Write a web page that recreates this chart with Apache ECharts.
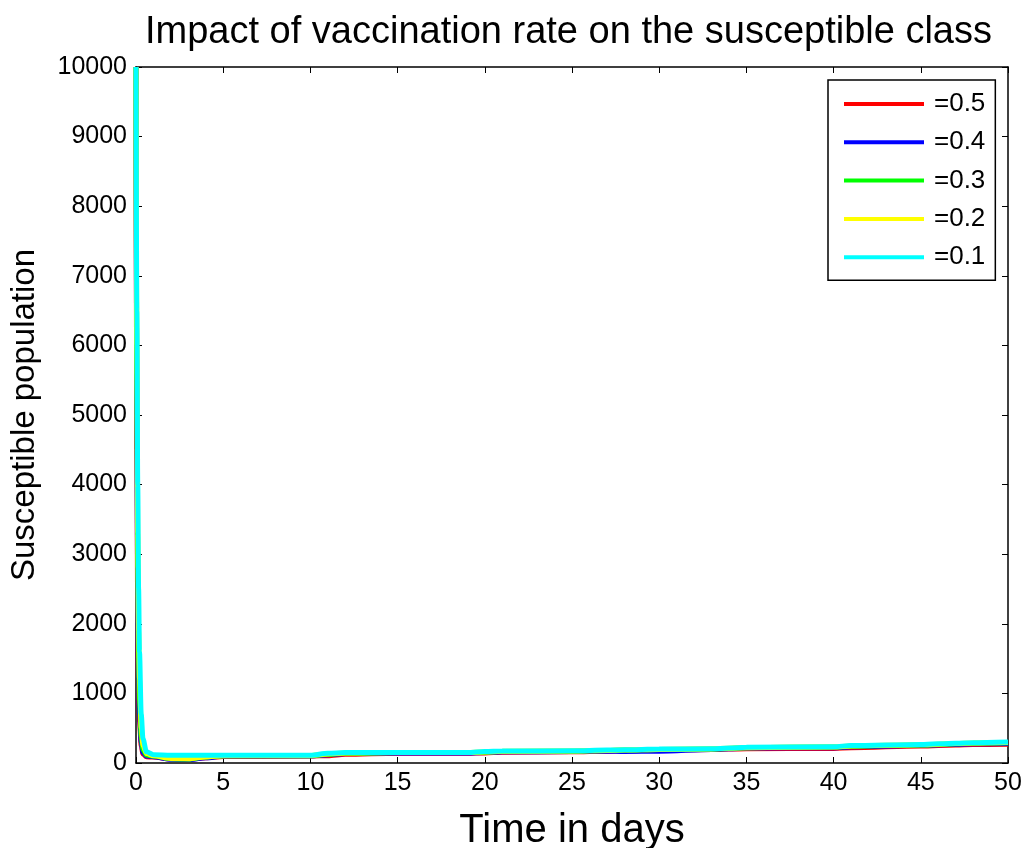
<!DOCTYPE html>
<html>
<head>
<meta charset="utf-8">
<script src="https://cdn.jsdelivr.net/npm/echarts@6/dist/echarts.min.js"></script>
<style>html,body{margin:0;padding:0;background:#fff;}#c{width:1027px;height:848px;}</style>
</head>
<body>
<div id="c"></div>
<script>
const titleText = 'Impact of vaccination rate on the susceptible class';
const xName = 'Time in days';
const yName = 'Susceptible population';
const seriesNames = ['=0.5', '=0.4', '=0.3', '=0.2', '=0.1'];
const seriesColors = ['#ff0000', '#0000ff', '#00ff00', '#ffff00', '#00ffff'];
const xTicks = [0, 5, 10, 15, 20, 25, 30, 35, 40, 45, 50];
const yTicks = [0, 1000, 2000, 3000, 4000, 5000, 6000, 7000, 8000, 9000, 10000];

const time = [0, 0.05, 0.1, 0.15, 0.2, 0.3, 0.4, 0.6, 1, 2, 3, 4, 5, 10, 11, 12, 15, 19, 20, 21, 25, 27, 28, 30, 33, 34, 35, 40, 41, 45, 47, 48, 50];
const s05 = [10000, 4500, 2000, 1000, 600, 250, 130, 90, 85, 60, 55, 75, 95, 100, 105, 125, 140, 140, 145, 155, 160, 170, 175, 185, 195, 200, 205, 210, 220, 245, 260, 265, 270];
const s04 = [10000, 5000, 2400, 1200, 700, 300, 150, 100, 90, 55, 50, 75, 100, 105, 120, 135, 145, 145, 150, 160, 165, 170, 165, 170, 195, 205, 215, 220, 235, 255, 270, 275, 280];
const s03 = [10000, 5500, 2800, 1500, 900, 380, 190, 115, 100, 60, 58, 85, 105, 105, 125, 140, 150, 150, 155, 165, 170, 180, 185, 195, 200, 210, 220, 230, 240, 260, 275, 285, 290];
const s02 = [10000, 6000, 3300, 1900, 1200, 500, 250, 135, 105, 65, 62, 88, 105, 108, 130, 142, 150, 150, 158, 168, 172, 180, 188, 195, 202, 212, 220, 230, 245, 262, 280, 288, 295];
const s01 = [10000, 6500, 4000, 2500, 1600, 700, 350, 160, 120, 110, 110, 110, 110, 110, 140, 150, 150, 150, 165, 172, 175, 185, 190, 200, 205, 215, 225, 235, 250, 265, 285, 290, 300];
const allSeries = [s05, s04, s03, s02, s01];

const FONT = '"Liberation Sans", Arial, sans-serif';
const chart = echarts.init(document.getElementById('c'));
const series = allSeries.map((vals, i) => ({
  name: seriesNames[i],
  type: 'line',
  data: time.map((t, j) => [t, vals[j]]),
  showSymbol: false,
  smooth: 0.3,
  smoothMonotone: 'x',
  lineStyle: { color: seriesColors[i], width: 5 },
  itemStyle: { color: seriesColors[i] },
  z: 2 + i
}));

const tickStyle = { show: true, inside: true, length: 6, lineStyle: { color: '#000', width: 1 } };
chart.setOption({
  animation: false,
  backgroundColor: '#fff',
  title: {
    text: titleText, left: 145, top: 14, padding: 0,
    textStyle: { fontFamily: FONT, fontSize: 38, fontWeight: 'normal', color: '#000' }
  },
  legend: {
    orient: 'vertical', left: 828, top: 80,
    data: seriesNames,
    icon: 'rect', itemWidth: 80, itemHeight: 4, itemGap: 12.3,
    padding: [11, 10, 10, 16],
    borderColor: '#000', borderWidth: 1.5, backgroundColor: '#fff',
    textStyle: { fontFamily: FONT, fontSize: 26, color: '#000', padding: [8, 0, 0, 5] }
  },
  grid: { left: 136, right: 19, top: 67, bottom: 85, containLabel: false, outerBoundsMode: 'none' },
  xAxis: [{
    type: 'value', min: 0, max: 50, interval: 5,
    name: xName, nameLocation: 'middle', nameGap: 48,
    nameTextStyle: { fontFamily: FONT, fontSize: 40, color: '#000' },
    axisLine: { show: true, onZero: false, lineStyle: { color: '#000', width: 1.5 } },
    axisTick: tickStyle,
    axisLabel: { fontFamily: FONT, fontSize: 25, color: '#000', margin: 8 },
    splitLine: { show: false }
  }, {
    type: 'value', min: 0, max: 50, interval: 5, position: 'top',
    axisLine: { show: true, onZero: false, lineStyle: { color: '#000', width: 1.5 } },
    axisTick: tickStyle, axisLabel: { show: false }, splitLine: { show: false }
  }],
  yAxis: [{
    type: 'value', min: 0, max: 10000, interval: 1000,
    name: yName, nameLocation: 'middle', nameGap: 95,
    nameTextStyle: { fontFamily: FONT, fontSize: 33, color: '#000' },
    axisLine: { show: true, onZero: false, lineStyle: { color: '#000', width: 1.5 } },
    axisTick: tickStyle,
    axisLabel: { fontFamily: FONT, fontSize: 25, color: '#000', margin: 9, formatter: v => String(v) },
    splitLine: { show: false }
  }, {
    type: 'value', min: 0, max: 10000, interval: 1000, position: 'right',
    axisLine: { show: true, onZero: false, lineStyle: { color: '#000', width: 1.5 } },
    axisTick: tickStyle, axisLabel: { show: false }, splitLine: { show: false }
  }],
  series: series
});
</script>
</body>
</html>
